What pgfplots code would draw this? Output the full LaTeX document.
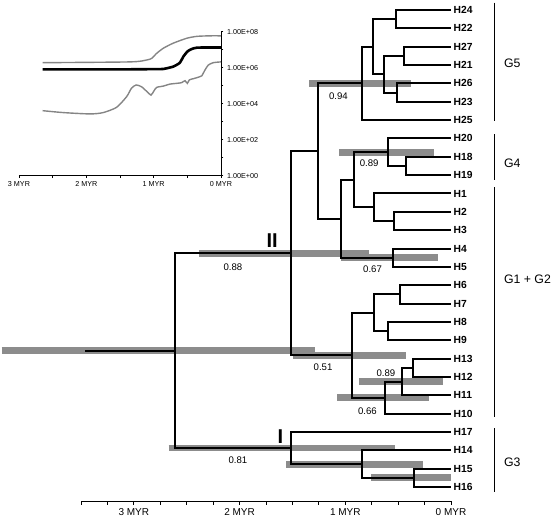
\documentclass[border=0pt]{standalone}
\usepackage{fontspec}
\setmainfont{Liberation Sans}
\usepackage{pgfplots}
\pgfplotsset{compat=1.18}
\definecolor{hpd}{gray}{0.55}
\definecolor{curvegray}{gray}{0.52}
\tikzset{
  tree/.style={black, line width=2pt, line join=miter, no marks},
  hpdbar/.style={hpd, line width=6.8pt, line cap=butt, no marks},
  leaf/.style={anchor=west, inner sep=0pt, xshift=2.5pt, font=\fontsize{10.3}{10}\selectfont\bfseries},
  post/.style={inner sep=0pt, font=\fontsize{9.6}{9}\selectfont},
  grp/.style={anchor=west, inner sep=0pt, font=\fontsize{12.3}{12}\selectfont},
  clade/.style={inner sep=0pt, font=\fontsize{20}{20}\selectfont\bfseries},
}
\begin{document}
\begin{tikzpicture}
\useasboundingbox (0,0) rectangle (558pt,519pt);
% ---------------- main tree ----------------
\begin{axis}[
  at={(81pt,18pt)}, anchor=south west, scale only axis,
  width=370pt, height=501pt,
  xmin=-3.5, xmax=0, ymin=-26.76, ymax=0.545,
  axis x line=bottom, axis y line=none,
  axis line style={-, line width=0.8pt},
  xtick={-3,-2,-1,0}, xticklabels={3 MYR,2 MYR,1 MYR,0 MYR},
  minor xtick={-3.5,-3.25,...,-0.25},
  tick align=outside, major tick length=4pt, minor tick length=4pt,
  every tick/.style={black, line width=0.8pt},
  xticklabel style={font=\fontsize{10}{10}\selectfont},
  clip=false,
]
% HPD bars
\addplot[hpdbar] coordinates {(-4.25,-18.5625) (-1.289,-18.5625)};
\addplot[hpdbar] coordinates {(-2.386,-13.25) (-0.774,-13.25)};
\addplot[hpdbar] coordinates {(-1.343,-4) (-0.382,-4)};
\addplot[hpdbar] coordinates {(-1.059,-7.75) (-0.158,-7.75)};
\addplot[hpdbar] coordinates {(-1.036,-13.5) (-0.120,-13.5)};
\addplot[hpdbar] coordinates {(-1.495,-18.8125) (-0.427,-18.8125)};
\addplot[hpdbar] coordinates {(-0.872,-20.25) (-0.079,-20.25)};
\addplot[hpdbar] coordinates {(-1.074,-21.125) (-0.209,-21.125)};
\addplot[hpdbar] coordinates {(-2.67,-23.875) (-0.531,-23.875)};
\addplot[hpdbar] coordinates {(-1.557,-24.75) (-0.263,-24.75)};
\addplot[hpdbar] coordinates {(-0.758,-25.5) (0,-25.5)};
% branches
\addplot[tree] coordinates {(0,0) (-0.52,0) (-0.52,-1) (0,-1)};
\addplot[tree] coordinates {(0,-2) (-0.44,-2) (-0.44,-3) (0,-3)};
\addplot[tree] coordinates {(0,-4) (-0.515,-4) (-0.515,-5) (0,-5)};
\addplot[tree] coordinates {(-0.44,-2.5) (-0.63,-2.5) (-0.63,-4.5) (-0.515,-4.5)};
\addplot[tree] coordinates {(-0.52,-0.5) (-0.74,-0.5) (-0.74,-3.5) (-0.63,-3.5)};
\addplot[tree] coordinates {(-0.74,-2) (-0.84,-2) (-0.84,-6) (0,-6)};
\addplot[tree] coordinates {(0,-8) (-0.43,-8) (-0.43,-9) (0,-9)};
\addplot[tree] coordinates {(0,-7) (-0.60,-7) (-0.60,-8.5) (-0.43,-8.5)};
\addplot[tree] coordinates {(0,-11) (-0.54,-11) (-0.54,-12) (0,-12)};
\addplot[tree] coordinates {(0,-10) (-0.73,-10) (-0.73,-11.5) (-0.54,-11.5)};
\addplot[tree] coordinates {(-0.60,-7.75) (-0.917,-7.75) (-0.917,-10.75) (-0.73,-10.75)};
\addplot[tree] coordinates {(0,-13) (-0.547,-13) (-0.547,-14) (0,-14)};
\addplot[tree] coordinates {(-0.917,-9.25) (-1.036,-9.25) (-1.036,-13.5) (-0.547,-13.5)};
\addplot[tree] coordinates {(-0.84,-4) (-1.254,-4) (-1.254,-11.375) (-1.036,-11.375)};
\addplot[tree] coordinates {(0,-15) (-0.483,-15) (-0.483,-16) (0,-16)};
\addplot[tree] coordinates {(0,-17) (-0.60,-17) (-0.60,-18) (0,-18)};
\addplot[tree] coordinates {(-0.483,-15.5) (-0.727,-15.5) (-0.727,-17.5) (-0.60,-17.5)};
\addplot[tree] coordinates {(0,-19) (-0.363,-19) (-0.363,-20) (0,-20)};
\addplot[tree] coordinates {(-0.363,-19.5) (-0.462,-19.5) (-0.462,-21) (0,-21)};
\addplot[tree] coordinates {(-0.462,-20.25) (-0.623,-20.25) (-0.623,-22) (0,-22)};
\addplot[tree] coordinates {(-0.727,-16.5) (-0.941,-16.5) (-0.941,-21.125) (-0.623,-21.125)};
\addplot[tree] coordinates {(-1.254,-7.6875) (-1.512,-7.6875) (-1.512,-18.8125) (-0.941,-18.8125)};
\addplot[tree] coordinates {(0,-25) (-0.348,-25) (-0.348,-26) (0,-26)};
\addplot[tree] coordinates {(0,-24) (-0.841,-24) (-0.841,-25.5) (-0.348,-25.5)};
\addplot[tree] coordinates {(0,-23) (-1.51,-23) (-1.51,-24.75) (-0.841,-24.75)};
\addplot[tree] coordinates {(-1.512,-13.25) (-2.607,-13.25) (-2.607,-23.875) (-1.51,-23.875)};
\addplot[tree] coordinates {(-3.46,-18.5625) (-2.607,-18.5625)};
% leaf labels
\node[leaf] at (axis cs:0,0) {H24};
\node[leaf] at (axis cs:0,-1) {H22};
\node[leaf] at (axis cs:0,-2) {H27};
\node[leaf] at (axis cs:0,-3) {H21};
\node[leaf] at (axis cs:0,-4) {H26};
\node[leaf] at (axis cs:0,-5) {H23};
\node[leaf] at (axis cs:0,-6) {H25};
\node[leaf] at (axis cs:0,-7) {H20};
\node[leaf] at (axis cs:0,-8) {H18};
\node[leaf] at (axis cs:0,-9) {H19};
\node[leaf] at (axis cs:0,-10) {H1};
\node[leaf] at (axis cs:0,-11) {H2};
\node[leaf] at (axis cs:0,-12) {H3};
\node[leaf] at (axis cs:0,-13) {H4};
\node[leaf] at (axis cs:0,-14) {H5};
\node[leaf] at (axis cs:0,-15) {H6};
\node[leaf] at (axis cs:0,-16) {H7};
\node[leaf] at (axis cs:0,-17) {H8};
\node[leaf] at (axis cs:0,-18) {H9};
\node[leaf] at (axis cs:0,-19) {H13};
\node[leaf] at (axis cs:0,-20) {H12};
\node[leaf] at (axis cs:0,-21) {H11};
\node[leaf] at (axis cs:0,-22) {H10};
\node[leaf] at (axis cs:0,-23) {H17};
\node[leaf] at (axis cs:0,-24) {H14};
\node[leaf] at (axis cs:0,-25) {H15};
\node[leaf] at (axis cs:0,-26) {H16};
% posterior values
\node[post] at (axis cs:-1.065,-4.72) {0.94};
\node[post] at (axis cs:-0.774,-8.35) {0.89};
\node[post] at (axis cs:-0.742,-14.1) {0.67};
\node[post] at (axis cs:-2.063,-14.02) {0.88};
\node[post] at (axis cs:-1.21,-19.47) {0.51};
\node[post] at (axis cs:-0.616,-19.8) {0.89};
\node[post] at (axis cs:-0.79,-21.85) {0.66};
\node[post] at (axis cs:-2.016,-24.56) {0.81};
\node[clade] at (axis cs:-1.692,-12.58) {II};
\node[clade] at (axis cs:-1.614,-23.27) {I};
% groups
\draw[line width=1.2pt] (axis cs:0.41,0.4) -- (axis cs:0.41,-6.03);
\draw[line width=1.2pt] (axis cs:0.41,-6.76) -- (axis cs:0.41,-9.26);
\draw[line width=1.2pt] (axis cs:0.41,-9.66) -- (axis cs:0.41,-22.16);
\draw[line width=1.2pt] (axis cs:0.41,-22.8) -- (axis cs:0.41,-26.25);
\node[grp] at (axis cs:0.50,-2.89) {G5};
\node[grp] at (axis cs:0.50,-8.34) {G4};
\node[grp] at (axis cs:0.50,-14.7) {G1 + G2};
\node[grp] at (axis cs:0.50,-24.67) {G3};
\end{axis}
% ---------------- inset ----------------
\begin{axis}[
  at={(19pt,343.3pt)}, anchor=south west, scale only axis,
  width=202pt, height=144pt,
  xmin=-3, xmax=0, ymode=log, log basis y=10, ymin=1, ymax=1e8,
  axis x line=bottom, axis y line=right,
  axis line style={-, line width=0.7pt},
  xtick={-3,-2,-1,0}, xticklabels={3 MYR,2 MYR,1 MYR,0 MYR},
  minor xtick={-2.5,-1.5,-0.5},
  ytick={1,100,10000,1000000,100000000},
  yticklabels={1.00E+00,1.00E+02,1.00E+04,1.00E+06,1.00E+08},
  minor ytick={10,1000,100000,10000000},
  tick align=outside, major tick length=2.5pt, minor tick length=2.5pt,
  every tick/.style={black, line width=0.7pt},
  ticklabel style={font=\fontsize{7.2}{7}\selectfont},
  clip=false,
]
\addplot[curvegray, line width=1.4pt, smooth, tension=0.4] coordinates {
(-2.65,1.9e6) (-1.35,2.1e6) (-1.10,2.7e6) (-1.03,3.3e6) (-0.955,6.3e6)
(-0.857,1.2e7) (-0.71,2.3e7) (-0.51,4.3e7) (-0.36,5.5e7) (-0.163,5.9e7) (0,5.9e7)};
\addplot[curvegray, line width=1.4pt, smooth, tension=0.4] coordinates {
(-2.65,4.1e3) (-2.34,3.2e3) (-1.945,2.7e3) (-1.75,3.2e3) (-1.55,6.3e3)
(-1.40,2.5e4) (-1.33,7.2e4) (-1.26,1.1e5) (-1.18,8.7e4) (-1.10,4.7e4)
(-1.04,3.0e4) (-0.995,5.2e4) (-0.955,8.1e4) (-0.857,9.5e4) (-0.757,1.23e5)
(-0.658,1.35e5) (-0.584,1.48e5) (-0.535,1.9e5) (-0.50,1.35e5) (-0.47,2.1e5)
(-0.41,2.45e5) (-0.337,2.95e5) (-0.287,3.5e5) (-0.238,7.4e5) (-0.189,1.4e6)
(-0.114,1.9e6) (0,2.1e6)};
\addplot[black, line width=2.6pt, smooth, tension=0.4] coordinates {
(-2.65,8.1e5) (-1.5,8.1e5) (-1.0,8.3e5) (-0.857,8.5e5) (-0.71,1.15e6)
(-0.61,1.9e6) (-0.56,4.1e6) (-0.485,8.7e6) (-0.36,1.29e7) (0,1.32e7)};
\end{axis}
\end{tikzpicture}
\end{document}
